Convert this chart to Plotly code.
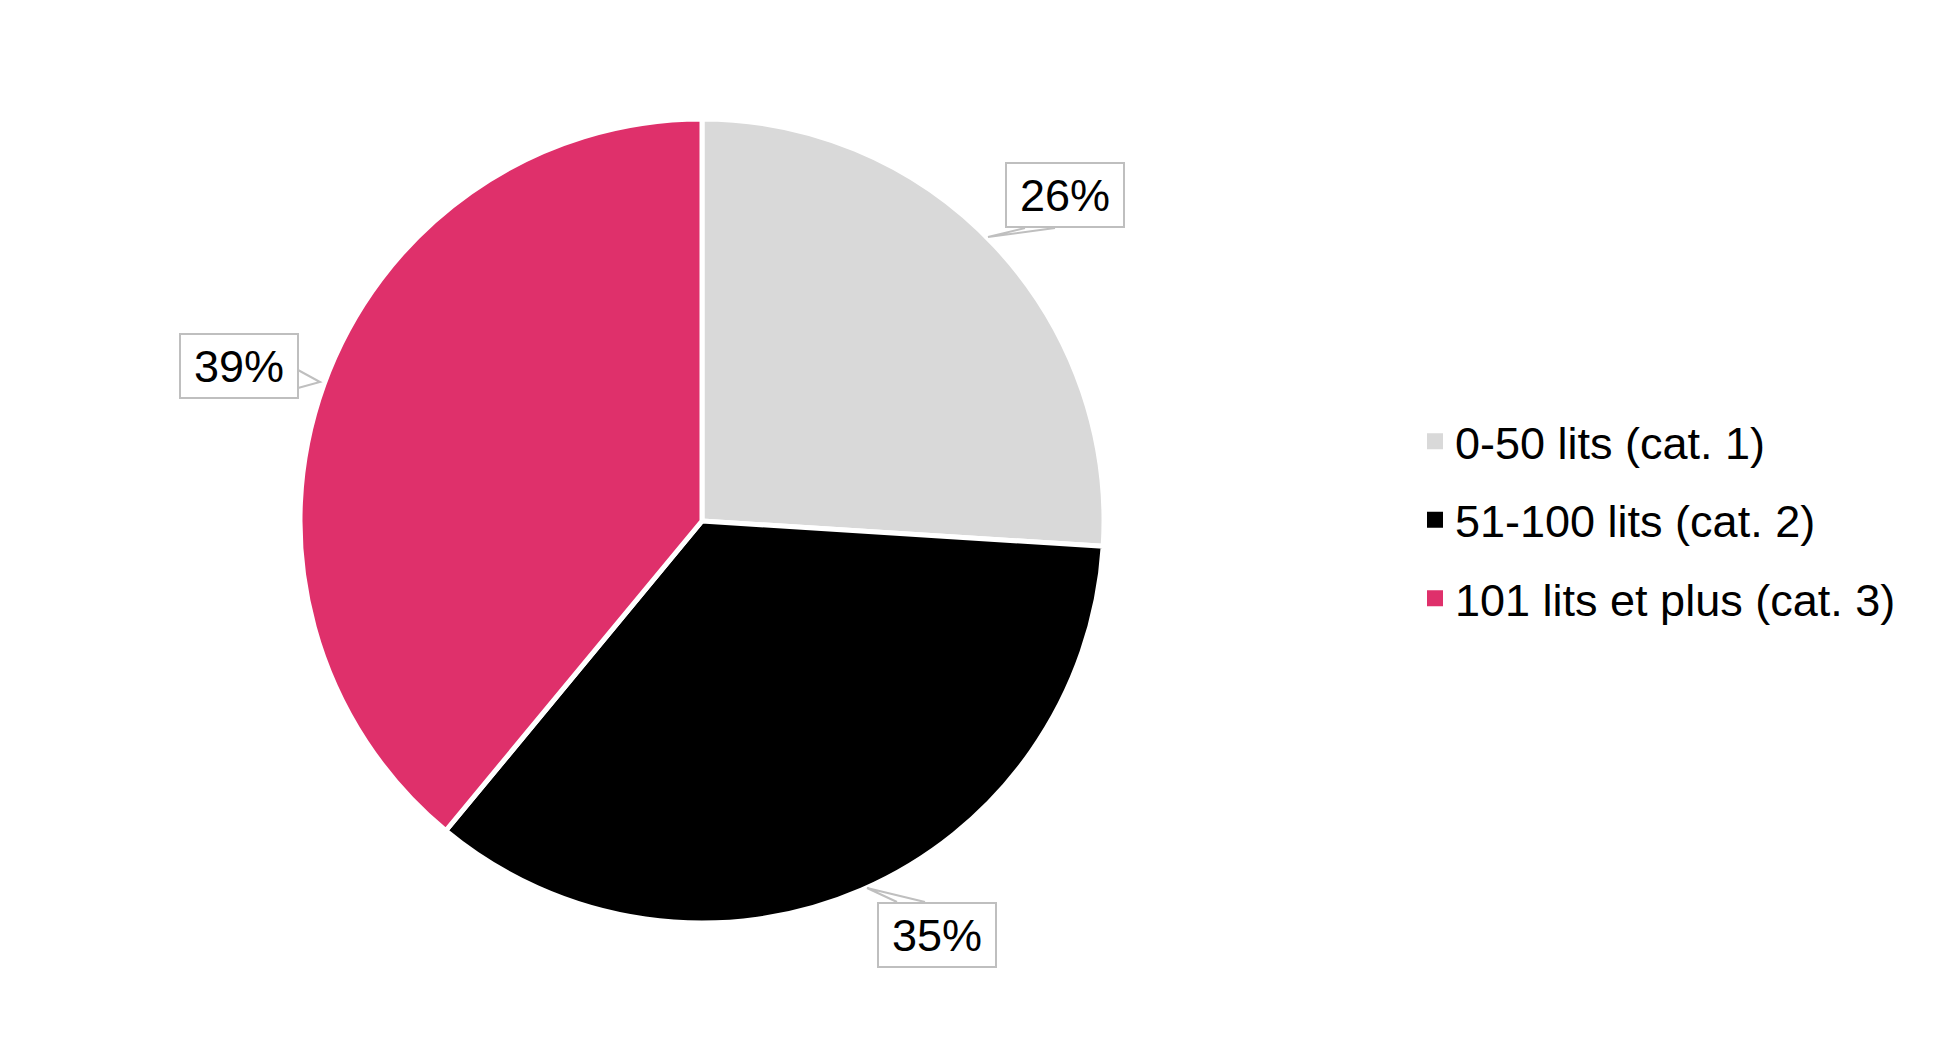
import plotly.graph_objects as go

categories = ["0-50 lits (cat. 1)", "51-100 lits (cat. 2)", "101 lits et plus (cat. 3)"]
values = [26, 35, 39]
colors = ["#D9D9D9", "#000000", "#DF306B"]
label_texts = ["26%", "35%", "39%"]

W, H = 1949, 1039
OFF = 8  # page body margin
FONT = "Liberation Sans, Arial, sans-serif"

def px(x, y):
    return (x - OFF) / W, 1 - (y - OFF) / H

fig = go.Figure()
x0, y1 = px(300, 119)
x1, y0 = px(1104, 923)
fig.add_trace(go.Pie(
    labels=categories, values=values, sort=False, direction="clockwise", rotation=0,
    marker=dict(colors=colors, line=dict(color="white", width=5)),
    textinfo="none", hoverinfo="label+percent", showlegend=False,
    domain=dict(x=[x0, x1], y=[y0, y1]),
))

# legend entries (one per category)
for i, (cat, col) in enumerate(zip(categories, colors)):
    fig.add_trace(go.Scatter(
        x=[None], y=[None], mode="markers", name=cat, legendgroup="g%d" % i,
        marker=dict(symbol="square", size=16, color=col), hoverinfo="skip",
    ))

# callout boxes: (center x, center y) and pointer wedge (base a, tip, base b) in pixels
callouts = [
    (label_texts[0], (1065, 195), [(1025, 228), (988, 237), (1055, 228)]),
    (label_texts[1], (937, 935), [(897, 902), (867, 888), (925, 902)]),
    (label_texts[2], (238.5, 366), [(298, 370), (320, 382), (298, 388)]),
]
for txt, (cx, cy), wedge in callouts:
    pts = [px(*p) for p in wedge]
    path = "M {} {} L {} {} L {} {}".format(pts[0][0], pts[0][1], pts[1][0], pts[1][1], pts[2][0], pts[2][1])
    fig.add_shape(type="path", path=path, xref="paper", yref="paper",
                  line=dict(color="#BFBFBF", width=2), fillcolor="white", layer="above")
    ax, ay = px(cx, cy)
    fig.add_annotation(x=ax, y=ay, xref="paper", yref="paper", text=txt, showarrow=False,
                       font=dict(family=FONT, size=45, color="black"),
                       bgcolor="white", bordercolor="#BFBFBF", borderwidth=2, borderpad=0,
                       width=116, height=62, xanchor="center", yanchor="middle")

lx, ly = px(1415, 520)
fig.update_layout(
    width=W, height=H,
    margin=dict(l=0, r=0, t=0, b=0),
    paper_bgcolor="white", plot_bgcolor="white",
    font=dict(family=FONT, size=45, color="black"),
    xaxis=dict(visible=False), yaxis=dict(visible=False),
    legend=dict(x=lx, y=ly, xanchor="left", yanchor="middle",
                font=dict(family=FONT, size=45, color="black"),
                tracegroupgap=17, itemsizing="trace",
                bgcolor="rgba(0,0,0,0)"),
    showlegend=True,
)

fig.write_html("out.html")
